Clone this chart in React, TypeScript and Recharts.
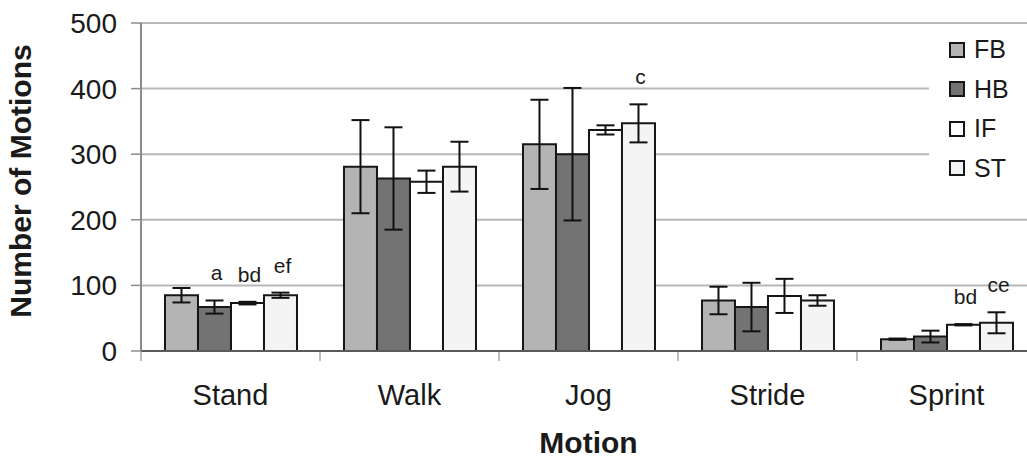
import React from 'react';
import { BarChart, Bar, XAxis, YAxis, CartesianGrid, ErrorBar, LabelList, Legend } from 'recharts';

// ---- data ----
const categories = ['Stand', 'Walk', 'Jog', 'Stride', 'Sprint'];
const fbMean = [85, 281, 315, 77, 18];
const fbErr = [11, 71, 68, 21, 1];
const hbMean = [67, 263, 300, 67, 22];
const hbErr = [10, 78, 101, 37, 9];
const ifMean = [73, 258, 337, 84, 40];
const ifErr = [2, 17, 7, 26, 1];
const stMean = [85, 281, 347, 77, 43];
const stErr = [4, 38, 29, 8, 16];
const fbSig = ['', '', '', '', ''];
const hbSig = ['a', '', '', '', ''];
const ifSig = ['bd', '', '', '', 'bd'];
const stSig = ['ef', '', 'c', '', 'ce'];
const seriesNames = ['FB', 'HB', 'IF', 'ST'];
const yTicks = [0, 100, 200, 300, 400, 500];

const data = categories.map((name, i) => ({
  name,
  FB: fbMean[i], FBErr: fbErr[i], FBSig: fbSig[i],
  HB: hbMean[i], HBErr: hbErr[i], HBSig: hbSig[i],
  IF: ifMean[i], IFErr: ifErr[i], IFSig: ifSig[i],
  ST: stMean[i], STErr: stErr[i], STSig: stSig[i],
}));

// ---- styles ----
const FONT = '"Liberation Sans", Arial, Helvetica, sans-serif';
const FILLS: Record<string, string> = { FB: '#b4b4b4', HB: '#737373', IF: '#ffffff', ST: '#f4f4f4' };
const BAR_STROKE = '#161616';
const TEXT = '#1a1a1a';

const makeSigLabel = (key: string) => (props: any) => {
  const { x, y, width, height, value, index } = props;
  if (!value) return null;
  const row: any = data[index];
  const mean = row[key];
  const err = row[key + 'Err'];
  const h = Number(height);
  const pxPerUnit = mean ? h / mean : 0;
  const errTop = Number(y) - err * pxPerUnit;
  return (
    <text
      x={Number(x) + Number(width) / 2 + 2}
      y={errTop - 20}
      textAnchor="middle"
      fontSize={21}
      fontFamily={FONT}
      fill={TEXT}
    >
      {value}
    </text>
  );
};

const CatTick = (props: any) => {
  const { x, y, payload, width, visibleTicksCount, index } = props;
  const n = Number(visibleTicksCount) || categories.length;
  const band = Number(width) / n;
  const yy = Number(y);
  const left = Number(x) - band / 2;
  const right = Number(x) + band / 2;
  return (
    <g>
      <line x1={left} x2={left} y1={yy + 1} y2={yy + 10} stroke="#a8a8a8" strokeWidth={1.5} />
      {index === n - 1 ? (
        <line x1={right} x2={right} y1={yy + 1} y2={yy + 10} stroke="#a8a8a8" strokeWidth={1.5} />
      ) : null}
      <text x={x} y={yy + 54} textAnchor="middle" fontSize={29} fontFamily={FONT} fill={TEXT}>
        {payload.value}
      </text>
    </g>
  );
};

const renderLegend = () => (
  <div style={{ background: '#ffffff', width: 120, height: 176, paddingTop: 2, boxSizing: 'border-box' }}>
    {seriesNames.map((n) => (
      <div key={n} style={{ height: 39.5, display: 'flex', alignItems: 'center' }}>
        <div
          style={{
            marginLeft: 20,
            width: 16,
            height: 16,
            boxSizing: 'border-box',
            border: `2px solid ${BAR_STROKE}`,
            background: FILLS[n],
          }}
        />
        <span style={{ marginLeft: 9, fontSize: 25, fontFamily: FONT, color: TEXT, lineHeight: 1 }}>{n}</span>
      </div>
    ))}
  </div>
);

export default function App() {
  return (
    <div style={{ position: 'fixed', left: 0, top: 0, width: 1027, height: 459, overflow: 'hidden', background: '#fff' }}>
      <BarChart
        width={1050}
        height={459}
        data={data}
        margin={{ top: 23, right: 14, bottom: 48, left: 0 }}
        barCategoryGap="13.4%"
        barGap={0}
      >
        <CartesianGrid horizontal vertical={false} stroke="#b8b8b8" strokeWidth={2} />
        <XAxis
          dataKey="name"
          interval={0}
          tickLine={false}
          tickSize={0}
          tickMargin={0}
          axisLine={{ stroke: '#5a5a5a', strokeWidth: 2 }}
          tick={<CatTick />}
          height={60}
          label={{
            content: (p: any) => {
              const vb = p.viewBox || {};
              return (
                <text
                  x={vb.x + vb.width / 2}
                  y={vb.y + 102}
                  textAnchor="middle"
                  fontSize={30}
                  fontWeight="bold"
                  fontFamily={FONT}
                  fill={TEXT}
                >
                  Motion
                </text>
              );
            },
          }}
        />
        <YAxis
          domain={[0, 500]}
          ticks={yTicks}
          interval={0}
          width={141}
          tickSize={10}
          tickMargin={14}
          axisLine={{ stroke: '#8c8c8c', strokeWidth: 2 }}
          tickLine={{ stroke: '#8c8c8c', strokeWidth: 1.5 }}
          tick={{ fontSize: 28, fontFamily: FONT, fill: TEXT }}
          label={{
            content: (p: any) => {
              const vb = p.viewBox || {};
              const cx = vb.x + 20;
              const cy = vb.y + vb.height / 2 - 6;
              return (
                <text
                  x={cx}
                  y={cy}
                  transform={`rotate(-90, ${cx}, ${cy})`}
                  textAnchor="middle"
                  dominantBaseline="central"
                  fontSize={30}
                  fontWeight="bold"
                  fontFamily={FONT}
                  fill={TEXT}
                >
                  Number of Motions
                </text>
              );
            },
          }}
        />
        <Legend
          layout="vertical"
          align="center"
          verticalAlign="middle"
          content={renderLegend}
          wrapperStyle={{ left: 929, top: 28, width: 120, height: 176 }}
        />
        {seriesNames.map((n) => (
          <Bar
            key={n}
            dataKey={n}
            name={n}
            fill={FILLS[n]}
            stroke={BAR_STROKE}
            strokeWidth={2}
            isAnimationActive={false}
          >
            <ErrorBar dataKey={n + 'Err'} direction="y" width={9} stroke="#111" strokeWidth={2} />
            <LabelList dataKey={n + 'Sig'} content={makeSigLabel(n)} />
          </Bar>
        ))}
      </BarChart>
    </div>
  );
}
